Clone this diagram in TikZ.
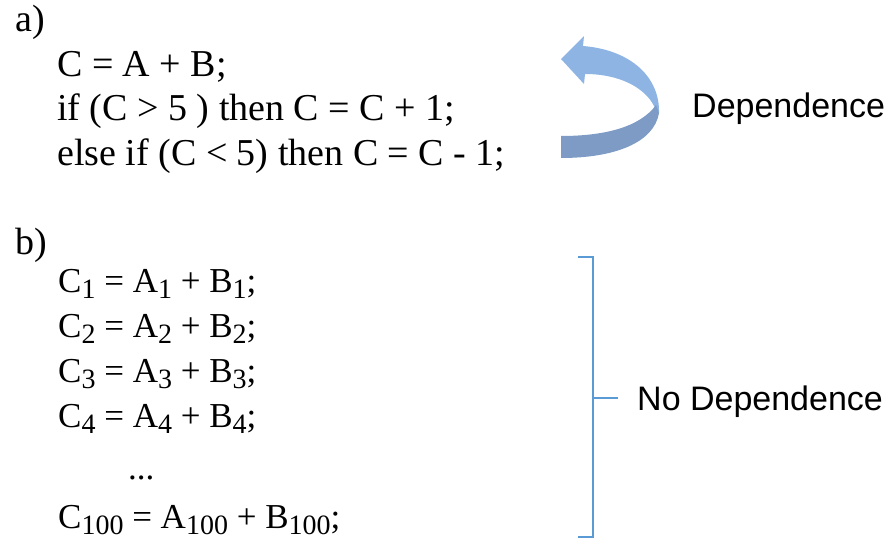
\documentclass[tikz,border=0pt]{standalone}
\usepackage{fontspec}
\setmainfont{Liberation Serif}
\newfontfamily\labelfont{Liberation Sans}
\usetikzlibrary{positioning,calc}
\definecolor{ribbonLight}{HTML}{8EB4E3}
\definecolor{ribbonDark}{HTML}{7D9BC4}
\definecolor{braceBlue}{HTML}{5B9BD5}
\newcommand{\lowsub}[1]{\raisebox{-0.18em}{\fontsize{28}{28}\selectfont #1}}

\begin{document}
\begin{tikzpicture}[x=1pt,y=-1pt,
  codea/.style={inner sep=0pt,anchor=base west,font=\fontsize{38}{40}\selectfont},
  codeb/.style={inner sep=0pt,anchor=base west,font=\fontsize{35}{37}\selectfont},
  tag/.style={inner sep=0pt,anchor=base west,font=\labelfont\fontsize{34}{36}\selectfont}]
\useasboundingbox (0,0) rectangle (892,540);
% part a
\node[codea] (la) at (15,32) {a)};
\node[codea] (a1) at (57,77) {C = A + B;};
\node[codea] (a2) at (57,121) {if (C > 5 ) then C = C + 1;};
\node[codea] (a3) at (57,166) {else if (C < 5) then C = C - 1;};
% curved ribbon arrow
\fill[ribbonLight] (583,46) .. controls (632,50) and (660,78) .. (659,113)
  -- (654,106) .. controls (645,88) and (620,74) .. (585,74)
  -- (584,84) -- (561,59) -- (584,36) -- cycle;
\fill[ribbonDark] (656,105) .. controls (640,127) and (605,136) .. (561,136)
  -- (561,158) .. controls (614,158) and (654,143) .. (659,113) -- cycle;
\node[tag] (dep) at (692,118) {Dependence};
% part b
\node[codea] (lb) at (15,255) {b)};
\foreach \i/\y in {1/292,2/337,3/382,4/427}
  \node[codeb] (b\i) at (58,\y) {C\lowsub{\i} = A\lowsub{\i} + B\lowsub{\i};};
\node[codeb] (dots) at (128,479) {...};
\node[codeb] (b100) at (58,528) {C\lowsub{100} = A\lowsub{100} + B\lowsub{100};};
% bracket
\coordinate (btop) at (593,257);
\coordinate (bbot) at (593,537);
\coordinate (bmid) at (593,398);
\node[tag] (nodep) at (637,410) {No Dependence};
\draw[braceBlue,line width=2.4pt] ($(btop)+(-15,0)$) -- (btop) -- (bbot) -- ++(-15,0);
\draw[braceBlue,line width=2.4pt] (bmid) -- ++(25,0);
\end{tikzpicture}
\end{document}
